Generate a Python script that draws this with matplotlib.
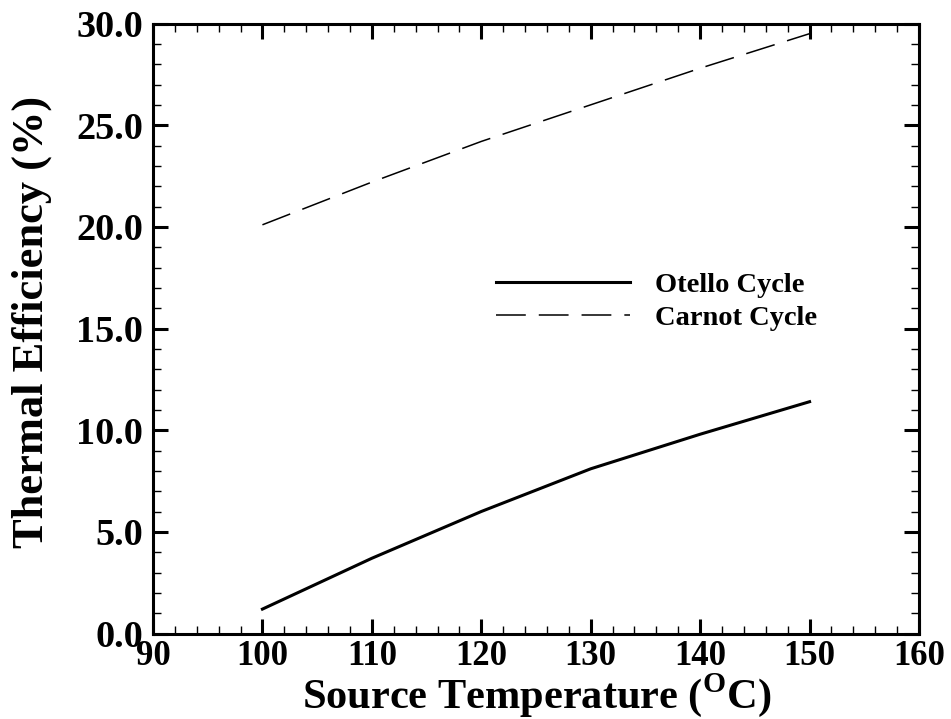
import numpy as np
import matplotlib
matplotlib.use("Agg")
import matplotlib.pyplot as plt

plt.rcParams['font.family'] = ['Liberation Serif', 'DejaVu Serif']
plt.rcParams['font.weight'] = 'bold'
plt.rcParams['mathtext.fontset'] = 'custom'
plt.rcParams['mathtext.rm'] = 'Liberation Serif:bold'

# data
temp = [100, 110, 120, 130, 140, 150]
otello = [1.2, 3.7, 6.0, 8.1, 9.8, 11.4]
carnot = [20.1, 22.2, 24.2, 26.0, 27.8, 29.5]

fig = plt.figure(figsize=(9.51, 7.19), dpi=100)
ax = fig.add_axes([153 / 951, 1 - 633.5 / 719, (919 - 153) / 951, (633.5 - 23.5) / 719])

ax.plot(temp, otello, color='black', lw=2.2, label='Otello Cycle')
ax.plot(temp, carnot, color='black', lw=1.1, dashes=(19.5, 8.5), label='Carnot Cycle')

ax.set_xlim(90, 160)
ax.set_ylim(0, 30)
ax.set_xticks(np.arange(90, 161, 10))
ax.set_xticks(np.arange(90, 161, 2), minor=True)
ax.set_yticks(np.arange(0, 30.1, 5))
ax.set_yticks(np.arange(0, 30.1, 1), minor=True)
ax.set_yticklabels(['%.1f' % v for v in np.arange(0, 30.1, 5)])

ax.tick_params(which='both', direction='in', top=True, right=True)
ax.tick_params(which='major', length=11, width=2.2, pad=7)
ax.tick_params(which='minor', length=6, width=1)
ax.tick_params(axis='x', labelsize=25, pad=5)
ax.tick_params(axis='y', labelsize=27.5)
for s in ax.spines.values():
    s.set_linewidth(2.2)

ax.set_xlabel('Source Temperature ($^{\\mathrm{O}}$C)', fontsize=30.5, fontweight='bold', va='baseline')
ax.xaxis.set_label_coords(0.5007, -(708 - 633.5) / 610)
ax.set_ylabel('Thermal Efficiency (%)', fontsize=32, fontweight='bold')
ax.yaxis.set_label_coords(-(153 - 52) / 766, 0.51)

leg = ax.legend(loc='upper left', bbox_to_anchor=(0.448, 0.593), frameon=False,
                fontsize=20.5, handlelength=4.7, handletextpad=0.88, labelspacing=0.26,
                borderpad=0, borderaxespad=0)

fig.savefig('out.png', dpi=100)
